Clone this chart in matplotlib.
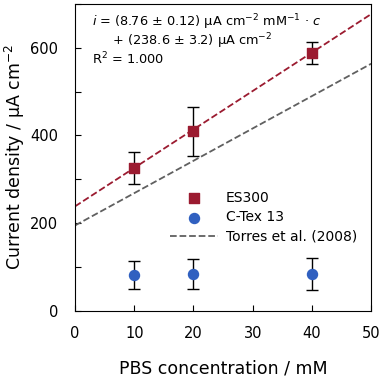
import matplotlib.pyplot as plt
import numpy as np

conc = [10, 20, 40]
es300 = [326, 410, 589]
es300_err = [36, 56, 25]
ctex = [82, 85, 85]
ctex_err = [32, 34, 36]

fit_slope, fit_icpt = 8.76, 238.6
torres_slope, torres_icpt = 7.37, 195.0

red = '#9b1b30'
blue = '#3060c0'

plt.rcParams['font.family'] = 'DejaVu Sans'
plt.rcParams['mathtext.fontset'] = 'dejavusans'

fig = plt.figure(figsize=(3.83, 3.84), dpi=100)
ax = fig.add_axes([0.196, 0.19, 0.773, 0.80])

xs = np.array([0, 50])
ax.plot(xs, fit_icpt + fit_slope * xs, '--', color=red, lw=1.3, zorder=2)
ax.plot(xs, torres_icpt + torres_slope * xs, '--', color='#606060', lw=1.3,
        label='Torres et al. (2008)', zorder=2)

ax.errorbar(conc, es300, yerr=es300_err, fmt='none', ecolor='black', capsize=4, lw=1, zorder=3)
ax.errorbar(conc, ctex, yerr=ctex_err, fmt='none', ecolor='black', capsize=4, lw=1, zorder=3)
ax.scatter(conc, es300, marker='s', s=48, color=red, label='ES300', zorder=4)
ax.scatter(conc, ctex, marker='o', s=52, color=blue, label='C-Tex 13', zorder=4)

ax.set_xlim(0, 50)
ax.set_ylim(0, 700)
ax.set_xticks(range(0, 51, 10))
ax.set_yticks(range(0, 701, 100))
ax.set_yticklabels(['0', '', '200', '', '400', '', '600', ''])
ax.tick_params(direction='in', length=4, labelsize=10.5)
ax.tick_params(axis='x', pad=11)
ax.tick_params(axis='y', pad=12)

ax.set_xlabel('PBS concentration / mM', fontsize=12.5, labelpad=13)
ax.set_ylabel(r'Current density / μA cm$^{-2}$', fontsize=12.5, labelpad=2)

fit_text = (r'$i$ = (8.76 ± 0.12) μA cm$^{-2}$ mM$^{-1}$ · $c$' + '\n'
            + r'     + (238.6 ± 3.2) μA cm$^{-2}$' + '\n'
            + r'R$^{2}$ = 1.000')
ax.text(2.8, 680, fit_text, fontsize=9.3, va='top', linespacing=0.95)

handles, labels = ax.get_legend_handles_labels()
order = [labels.index('ES300'), labels.index('C-Tex 13'), labels.index('Torres et al. (2008)')]
ax.legend([handles[i] for i in order], [labels[i] for i in order],
          loc='center left', bbox_to_anchor=(0.28, 0.305), frameon=False, fontsize=10,
          handlelength=3.4, handletextpad=0.6, labelspacing=0.4)

plt.savefig('out.png', dpi=100)
